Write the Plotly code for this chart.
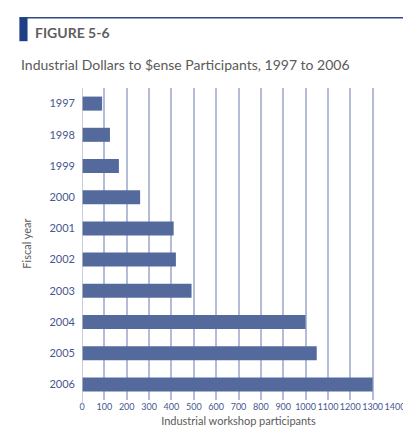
import plotly.graph_objects as go

years = ["1997","1998","1999","2000","2001","2002","2003","2004","2005","2006"]
participants = [90, 125, 165, 260, 410, 420, 490, 1000, 1050, 1300]
x_ticks = list(range(0, 1401, 100))

bar_color = "#546a9c"
grid_color = "#b4bcd8"
tick_color = "#46588f"
text_gray = "#5a5a5a"

fig = go.Figure(go.Bar(
    y=years, x=participants, orientation="h",
    marker=dict(color=bar_color, line=dict(width=0)),
    width=0.45,
))
fig.update_layout(
    width=411, height=444,
    margin=dict(l=74, r=24, t=80, b=52),
    paper_bgcolor="white", plot_bgcolor="white",
    font=dict(family="Lato, Open Sans, sans-serif", color=text_gray),
    showlegend=False,
    xaxis=dict(range=[0, 1400], tickvals=x_ticks, ticktext=[str(v) for v in x_ticks],
               showgrid=True, gridcolor=grid_color, gridwidth=1.5, tickangle=0,
               tickfont=dict(size=9, color=tick_color), ticks="", zeroline=False,
               showline=False, automargin=False,
               title=dict(text="Industrial workshop participants", font=dict(size=11, color=text_gray), standoff=6)),
    yaxis=dict(categoryorder="array", categoryarray=years[::-1], automargin=False,
               tickfont=dict(size=11, color=tick_color), ticks="", showgrid=False,
               ticklabelstandoff=6),
    shapes=[
        dict(type="rect", xref="x", yref="paper", x0=0, x1=0, y0=-0.015, y1=1.0,
             line=dict(color=grid_color, width=1.5)),
    ],
    annotations=[
        dict(text="Fiscal year", textangle=-90, xref="paper", yref="paper", x=-0.18, y=0.5,
             showarrow=False, font=dict(size=11, color=text_gray), xanchor="center"),
        dict(text="<b>FIGURE 5-6</b>", xref="paper", yref="paper", x=-0.155, y=1.178, xanchor="left",
             yanchor="middle", showarrow=False, font=dict(size=14, color="#5f5f5f")),
        dict(text="Industrial Dollars to $ense Participants, 1997 to 2006", xref="paper", yref="paper",
             x=-0.2, y=1.075, xanchor="left", yanchor="middle", showarrow=False,
             font=dict(size=14, color=text_gray)),
    ],
)
fig.add_shape(type="line", xref="paper", yref="paper", x0=-0.2, x1=1.05, y0=1.225, y1=1.225,
              line=dict(color="#2f4a86", width=1.5))
fig.add_shape(type="rect", xref="paper", yref="paper", x0=-0.2, x1=-0.174, y0=1.15, y1=1.225,
              fillcolor="#1f3f86", line=dict(width=0))
fig.write_html("out.html")
